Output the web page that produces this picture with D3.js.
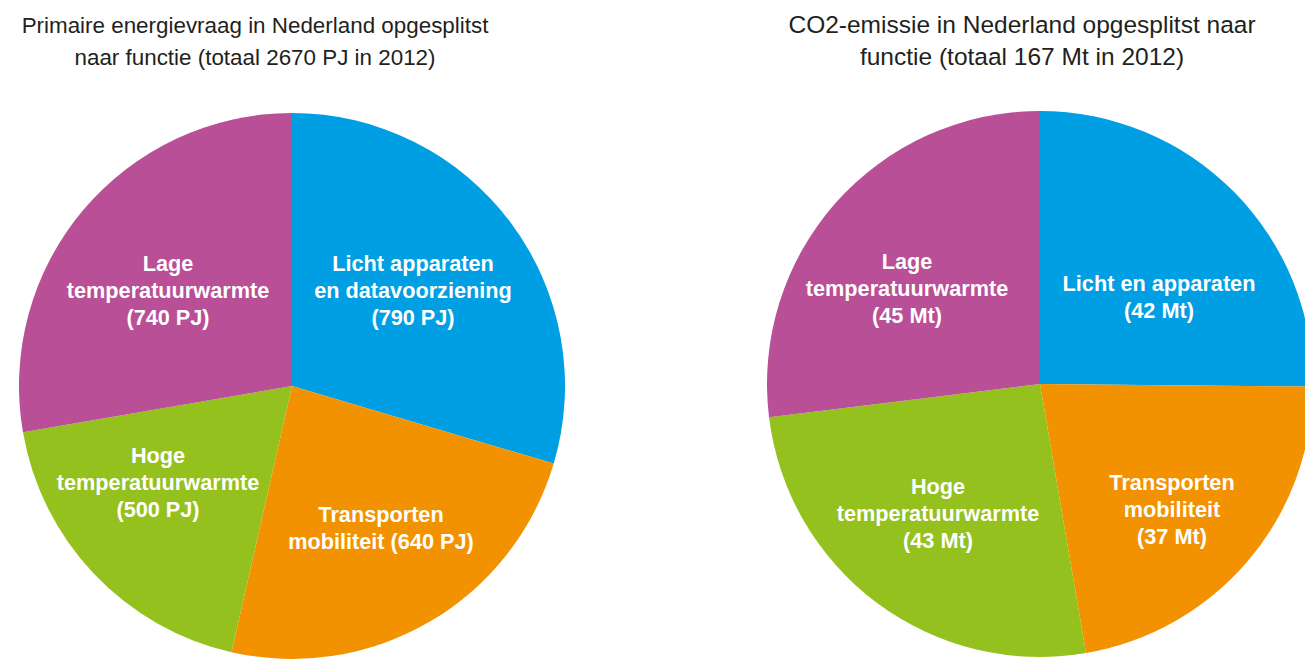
<!DOCTYPE html>
<html>
<head>
<meta charset="utf-8">
<script src="https://cdn.jsdelivr.net/npm/d3@7"></script>
<style>
  html, body { margin: 0; padding: 0; background: #fff; overflow: hidden; }
  svg { display: block; }
  .title { font-family: "Liberation Sans", Arial, sans-serif; fill: #231f20; }
  .lbl { font-family: "Liberation Sans", Arial, sans-serif; font-size: 21.7px; font-weight: bold; fill: #fff; }
</style>
</head>
<body>
<div id="chart"></div>
<script>
// categorieen (volgorde met de klok mee vanaf 12 uur)
const categories = ["licht", "transport", "hoog", "laag"];
const colors = ["#009fe3", "#f39200", "#95c11f", "#b94f96"];

// primaire energievraag (PJ)
const energyValues = [790, 640, 500, 740];
const energyLabels = [
    ["Licht apparaten", "en datavoorziening", "(790 PJ)"],
    ["Transporten", "mobiliteit (640 PJ)"],
    ["Hoge", "temperatuurwarmte", "(500 PJ)"],
    ["Lage", "temperatuurwarmte", "(740 PJ)"]
];
const energyTitle = ["Primaire energievraag in Nederland opgesplitst", "naar functie (totaal 2670 PJ in 2012)"];

// CO2-emissie (Mt)
const co2Values = [42, 37, 43, 45];
const co2Labels = [
    ["Licht en apparaten", "(42 Mt)"],
    ["Transporten", "mobiliteit", "(37 Mt)"],
    ["Hoge", "temperatuurwarmte", "(43 Mt)"],
    ["Lage", "temperatuurwarmte", "(45 Mt)"]
];
const co2Title = ["CO2-emissie in Nederland opgesplitst naar", "functie (totaal 167 Mt in 2012)"];

const W = 1305, H = 659;
const radius = 273;

const svg = d3.select("#chart").append("svg")
    .attr("width", W)
    .attr("height", H);

const pie = d3.pie().sort(null).value(d => d);
const arc = d3.arc().innerRadius(0).outerRadius(radius);

// label-offsets t.o.v. het midden (eerste basislijn)
const energyOffsets = [[121, -115], [89, 136], [-134, 77], [-124, -115]];
const co2Offsets = [[119, -93], [132, 106], [-102, 110], [-133, -115]];

function drawPie(cfg) {
    const g = svg.append("g").attr("transform", `translate(${cfg.cx},${cfg.cy})`);

    g.selectAll("path")
        .data(pie(cfg.values))
        .enter().append("path")
        .attr("d", arc)
        .attr("fill", (d, i) => colors[i]);

    const lbl = g.selectAll(".lbl")
        .data(cfg.labels)
        .enter().append("text")
        .attr("class", "lbl")
        .attr("text-anchor", "middle")
        .attr("transform", (d, i) => `translate(${cfg.offsets[i][0]},${cfg.offsets[i][1]})`);

    lbl.selectAll("tspan")
        .data(d => d)
        .enter().append("tspan")
        .attr("x", 0)
        .attr("y", (d, i) => i * 27)
        .text(d => d);

    svg.append("text")
        .attr("class", "title")
        .attr("text-anchor", "middle")
        .style("font-size", cfg.titleSize + "px")
        .attr("transform", `translate(${cfg.titleX},33)`)
        .selectAll("tspan")
        .data(cfg.title)
        .enter().append("tspan")
        .attr("x", 0)
        .attr("y", (d, i) => i * 32)
        .text(d => d);
}

drawPie({ cx: 292, cy: 386, values: energyValues, labels: energyLabels, offsets: energyOffsets, title: energyTitle, titleX: 255, titleSize: 22.4 });
drawPie({ cx: 1040, cy: 384, values: co2Values, labels: co2Labels, offsets: co2Offsets, title: co2Title, titleX: 1022, titleSize: 24.5 });
</script>
</body>
</html>
